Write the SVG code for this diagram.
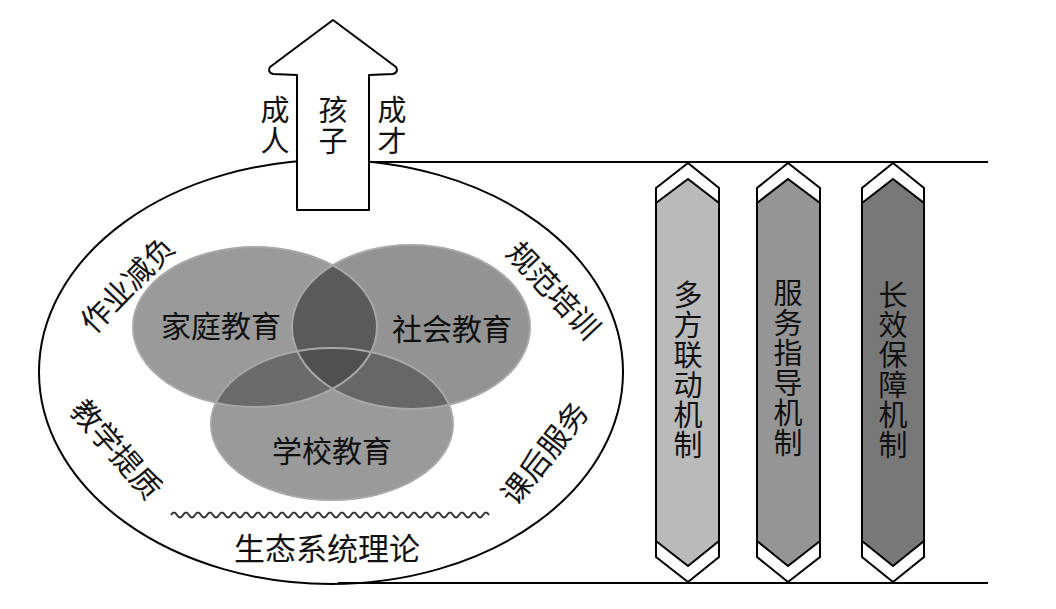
<svg xmlns="http://www.w3.org/2000/svg" width="1056" height="609" viewBox="0 0 1056 609">
<style>
.t{font-family:"Noto Sans CJK SC","Noto Sans",sans-serif;fill:#111;text-anchor:middle;dominant-baseline:central}
.vt{font-family:"Noto Sans CJK SC","Noto Sans",sans-serif;fill:#111;text-anchor:middle;writing-mode:vertical-rl;font-size:29px}
.ln{fill:none;stroke:#000;stroke-width:2}
.pil{stroke:#000;stroke-width:2;stroke-linejoin:miter}
.vo{fill:none;stroke:#a8a8a8;stroke-width:2}
</style>
<defs>
<clipPath id="cFam"><ellipse cx="255" cy="327" rx="122" ry="80"/></clipPath>
<clipPath id="cSoc"><ellipse cx="411" cy="327" rx="119" ry="82"/></clipPath>
</defs>
<rect width="1056" height="609" fill="#fff"/>

<g id="connectors">
<ellipse class="ln" cx="331" cy="372" rx="292" ry="212"/>
<line class="ln" x1="369" y1="162" x2="988" y2="162"/>
<line class="ln" x1="338" y1="583" x2="988" y2="583"/>
<path id="wave" d="M171,515 q3,-5 6,0 t6,0 t6,0 t6,0 t6,0 t6,0 t6,0 t6,0 t6,0 t6,0 t6,0 t6,0 t6,0 t6,0 t6,0 t6,0 t6,0 t6,0 t6,0 t6,0 t6,0 t6,0 t6,0 t6,0 t6,0 t6,0 t6,0 t6,0 t6,0 t6,0 t6,0 t6,0 t6,0 t6,0 t6,0 t6,0 t6,0 t6,0 t6,0 t6,0 t6,0 t6,0 t6,0 t6,0 t6,0 t6,0 t6,0 t6,0 t6,0 t6,0 t6,0 t6,0 t6,0" fill="none" stroke="#333" stroke-width="2"/>
</g>

<g id="arrow">
<path d="M333,20 L396,67 Q399,72 393,74 L369,75 L369,210 L297,210 L297,75 L273,74 Q267,72 270,67 Z" fill="#fff" stroke="#000" stroke-width="2" stroke-linejoin="round"/>
<text class="vt" x="275" y="126" letter-spacing="2">成人</text>
<text class="vt" x="333" y="126" letter-spacing="2">孩子</text>
<text class="vt" x="392" y="126" letter-spacing="2">成才</text>
</g>

<g id="venn">
<ellipse cx="255" cy="327" rx="122" ry="80" fill="#9a9a9a"/>
<ellipse cx="411" cy="327" rx="119" ry="82" fill="#939393"/>
<ellipse cx="332" cy="424" rx="121" ry="76" fill="#9a9a9a"/>
<ellipse cx="411" cy="327" rx="119" ry="82" fill="#5a5a5a" clip-path="url(#cFam)"/>
<ellipse cx="332" cy="424" rx="121" ry="76" fill="#6b6b6b" clip-path="url(#cFam)"/>
<ellipse cx="332" cy="424" rx="121" ry="76" fill="#676767" clip-path="url(#cSoc)"/>
<g clip-path="url(#cFam)"><ellipse cx="332" cy="424" rx="121" ry="76" fill="#505050" clip-path="url(#cSoc)"/></g>
<ellipse class="vo" cx="255" cy="327" rx="122" ry="80"/>
<ellipse class="vo" cx="411" cy="327" rx="119" ry="82"/>
<ellipse class="vo" cx="332" cy="424" rx="121" ry="76"/>
</g>
<g id="n-family"><text class="t" font-size="30" x="221" y="324">家庭教育</text></g>
<g id="n-society"><text class="t" font-size="30" x="452" y="327">社会教育</text></g>
<g id="n-school"><text class="t" font-size="30" x="332" y="449">学校教育</text></g>

<g id="labels">
<text class="t" font-size="30" transform="translate(126,283) rotate(-46)">作业减负</text>
<text class="t" font-size="30" transform="translate(118,448) rotate(49)">教学提质</text>
<text class="t" font-size="30" transform="translate(555,289) rotate(47)">规范培训</text>
<text class="t" font-size="30" transform="translate(543,452) rotate(-52)">课后服务</text>
<text class="t" font-size="31" x="327" y="546">生态系统理论</text>
</g>

<g id="pillar1">
<path class="pil" fill="#fff" d="M656,188 L688,163 L719,188 L719,557 L688,582 L656,557 Z"/>
<path class="pil" fill="#bababa" d="M656,203 L688,179 L719,203 L719,541 L688,566 L656,541 Z"/>
<text class="vt" x="688" y="370" letter-spacing="1">多方联动机制</text>
</g>
<g id="pillar2">
<path class="pil" fill="#fff" d="M757,188 L788,163 L820,188 L820,557 L788,582 L757,557 Z"/>
<path class="pil" fill="#959595" d="M757,203 L788,179 L820,203 L820,541 L788,566 L757,541 Z"/>
<text class="vt" x="788" y="368" letter-spacing="1">服务指导机制</text>
</g>
<g id="pillar3">
<path class="pil" fill="#fff" d="M862,188 L893,163 L924,188 L924,557 L893,582 L862,557 Z"/>
<path class="pil" fill="#787878" d="M862,203 L893,179 L924,203 L924,541 L893,566 L862,541 Z"/>
<text class="vt" x="893" y="370" letter-spacing="1">长效保障机制</text>
</g>
</svg>
